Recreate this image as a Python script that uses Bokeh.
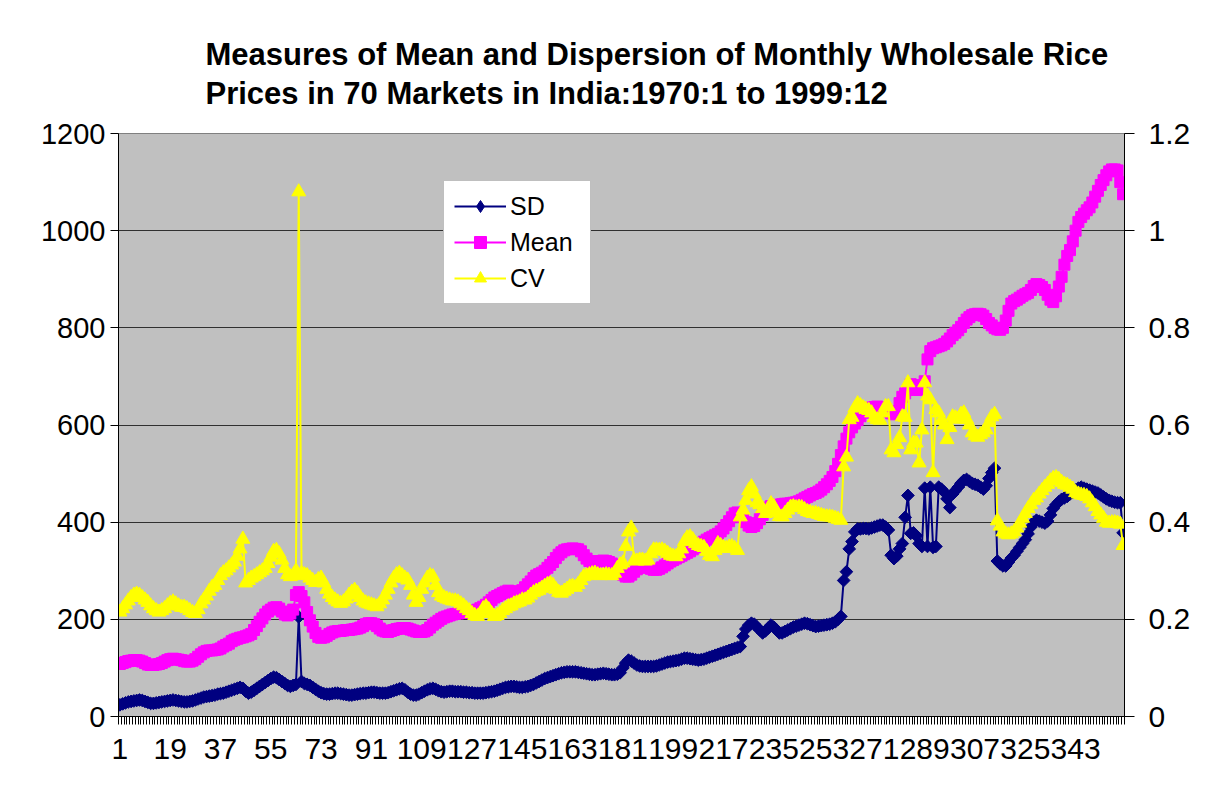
from bokeh.plotting import figure
from bokeh.models import Range1d, LinearAxis, FixedTicker, Legend, LegendItem
from bokeh.embed import file_html
from bokeh.resources import INLINE

# Month index 1..360 (1970:1 to 1999:12)
months = list(range(1, 361))
x_tick_labels = [1, 19, 37, 55, 73, 91, 109, 127, 145, 163, 181, 199, 217, 235, 253, 271, 289, 307, 325, 343]
left_ticks = [0, 200, 400, 600, 800, 1000, 1200]
right_ticks = [0, 0.2, 0.4, 0.6, 0.8, 1.0, 1.2]
right_labels = ["0", "0.2", "0.4", "0.6", "0.8", "1", "1.2"]

mean = [
    108, 110, 112, 114, 115, 116, 116, 115, 113, 110,
    107, 106, 106, 107, 108, 110, 113, 116, 118, 119,
    118, 117, 116, 114, 113, 113, 115, 118, 123, 128,
    132, 135, 136, 136, 137, 138, 140, 144, 147, 150,
    155, 158, 160, 162, 163, 165, 167, 170, 178, 186,
    195, 202, 210, 216, 220, 224, 225, 222, 216, 210,
    208, 212, 220, 250, 256, 248, 235, 215, 198, 185,
    172, 164, 162, 163, 166, 170, 173, 175, 176, 176,
    177, 178, 178, 179, 180, 181, 183, 186, 190, 192,
    192, 190, 186, 181, 177, 175, 174, 176, 178, 180,
    181, 182, 182, 181, 179, 177, 175, 174, 174, 175,
    178, 183, 189, 193, 197, 201, 204, 206, 208, 210,
    211, 212, 213, 213, 214, 215, 216, 218, 220, 223,
    226, 230, 235, 240, 245, 248, 251, 254, 257, 259,
    258, 255, 253, 255, 260, 266, 272, 278, 285, 290,
    293, 296, 300, 306, 312, 318, 326, 333, 338, 342,
    344, 345, 346, 345, 344, 340, 332, 325, 320, 318,
    318, 319, 320, 321, 320, 318, 315, 311, 305, 298,
    292, 288, 288, 292, 298, 303, 307, 309, 308, 306,
    304, 302, 302, 304, 307, 311, 315, 319, 322, 325,
    328, 331, 334, 337, 340, 344, 348, 352, 356, 360,
    364, 367, 370, 373, 376, 381, 387, 394, 402, 410,
    418, 420, 418, 410, 400, 393, 390, 392, 398, 406,
    415, 424, 430, 433, 434, 435, 436, 437, 438, 438,
    439, 440, 441, 443, 446, 449, 452, 455, 458, 460,
    463, 467, 472, 478, 485, 493, 505, 520, 538, 556,
    572, 585, 595, 603, 610, 618, 625, 631, 634, 636,
    637, 638, 637, 636, 633, 628, 624, 622, 628, 645,
    658, 665, 672, 684, 682, 676, 672, 675, 690, 735,
    752, 758, 760, 762, 764, 767, 772, 778, 785, 790,
    795, 802, 810, 817, 822, 826, 828, 829, 828, 825,
    818, 810, 805, 800, 797, 796, 800, 815, 835, 850,
    855, 858, 862, 866, 869, 872, 878, 886, 890, 888,
    884, 878, 868, 858, 853, 865, 885, 905, 930, 948,
    960, 978, 1000, 1018, 1028, 1035, 1042, 1048, 1058, 1070,
    1082, 1094, 1104, 1114, 1122, 1126, 1126, 1124, 1100, 1075,
]

sd = [
    24, 26, 28, 30, 31, 32, 33, 34, 33, 31,
    29, 27, 27, 28, 29, 30, 31, 32, 33, 34,
    33, 32, 31, 30, 30, 31, 32, 34, 36, 38,
    40, 41, 42, 43, 44, 46, 47, 48, 50, 52,
    54, 56, 58, 60, 58, 52, 48, 50, 54, 58,
    62, 66, 70, 74, 78, 81, 80, 76, 72, 68,
    64, 62, 64, 66, 205, 72, 68, 66, 64, 60,
    56, 52, 49, 47, 46, 46, 47, 48, 48, 47,
    46, 45, 44, 44, 45, 46, 47, 48, 48, 49,
    50, 50, 49, 48, 48, 48, 49, 51, 53, 55,
    57, 58, 55, 50, 46, 44, 44, 46, 49, 52,
    55, 57, 58, 56, 53, 51, 50, 51, 52, 52,
    51, 51, 51, 50, 50, 49, 49, 48, 48, 48,
    48, 49, 50, 51, 52, 54, 56, 58, 60, 61,
    62, 62, 61, 60, 60, 61, 62, 64, 66, 69,
    72, 75, 78, 80, 82, 84, 86, 88, 90, 91,
    92, 92, 92, 92, 91, 90, 89, 88, 87, 86,
    86, 87, 88, 89, 88, 87, 86, 86, 87, 90,
    100, 110, 116, 114, 110, 106, 104, 103, 103, 103,
    103, 103, 104, 106, 108, 110, 112, 113, 114, 115,
    116, 118, 120, 120, 119, 118, 117, 116, 117, 118,
    120, 122, 124, 126, 128, 130, 132, 134, 136, 138,
    140, 142, 144, 165, 180, 188, 192, 190, 184, 178,
    172, 176, 182, 188, 184, 178, 172, 172, 175, 178,
    181, 184, 186, 188, 190, 192, 191, 189, 187, 185,
    186, 187, 188, 189, 190, 192, 195, 200, 206, 280,
    298, 345, 360, 380, 386, 386, 387, 387, 386, 388,
    390, 392, 394, 394, 390, 384, 332, 325, 330, 345,
    356, 410, 455, 377, 378, 372, 356, 350, 470, 350,
    472, 348, 350, 472, 468, 462, 448, 430, 458, 465,
    472, 480, 486, 488, 484, 480, 478, 476, 472, 468,
    475, 490, 502, 511, 320, 314, 310, 310, 318, 326,
    332, 340, 348, 356, 364, 376, 390, 400, 404, 402,
    400, 398, 402, 415, 428, 436, 442, 447, 450, 453,
    458, 462, 466, 470, 472, 470, 468, 466, 464, 462,
    460, 456, 452, 448, 445, 443, 441, 440, 440, 378,
]

cv = [
    0.215, 0.222, 0.230, 0.238, 0.245, 0.250, 0.252, 0.250, 0.245, 0.240,
    0.235, 0.228, 0.222, 0.218, 0.215, 0.218, 0.222, 0.228, 0.233, 0.236,
    0.232, 0.228, 0.225, 0.225, 0.222, 0.218, 0.214, 0.212, 0.220, 0.232,
    0.240, 0.248, 0.258, 0.266, 0.270, 0.280, 0.290, 0.296, 0.300, 0.306,
    0.312, 0.318, 0.330, 0.345, 0.365, 0.275, 0.280, 0.285, 0.288, 0.292,
    0.296, 0.300, 0.305, 0.315, 0.328, 0.340, 0.342, 0.335, 0.322, 0.305,
    0.292, 0.288, 0.290, 0.300, 1.080, 0.295, 0.292, 0.290, 0.285, 0.280,
    0.276, 0.282, 0.285, 0.275, 0.262, 0.252, 0.245, 0.240, 0.236, 0.233,
    0.236, 0.242, 0.250, 0.256, 0.260, 0.254, 0.245, 0.238, 0.234, 0.232,
    0.230, 0.228, 0.226, 0.232, 0.240, 0.250, 0.262, 0.275, 0.285, 0.292,
    0.295, 0.290, 0.285, 0.281, 0.270, 0.250, 0.235, 0.245, 0.262, 0.275,
    0.285, 0.290, 0.288, 0.270, 0.255, 0.248, 0.245, 0.242, 0.240, 0.238,
    0.238, 0.236, 0.232, 0.228, 0.222, 0.218, 0.212, 0.208, 0.206, 0.212,
    0.222, 0.226, 0.220, 0.212, 0.206, 0.208, 0.212, 0.218, 0.222, 0.226,
    0.228, 0.232, 0.234, 0.236, 0.240, 0.240, 0.244, 0.250, 0.255, 0.258,
    0.260, 0.264, 0.268, 0.272, 0.274, 0.270, 0.262, 0.256, 0.254, 0.258,
    0.262, 0.267, 0.268, 0.266, 0.272, 0.280, 0.288, 0.290, 0.292, 0.294,
    0.295, 0.292, 0.290, 0.291, 0.292, 0.291, 0.290, 0.295, 0.305, 0.312,
    0.316, 0.350, 0.380, 0.388, 0.322, 0.320, 0.322, 0.322, 0.320, 0.322,
    0.335, 0.343, 0.343, 0.342, 0.343, 0.340, 0.336, 0.332, 0.330, 0.329,
    0.335, 0.345, 0.360, 0.368, 0.370, 0.364, 0.356, 0.352, 0.350, 0.348,
    0.340, 0.332, 0.329, 0.342, 0.356, 0.352, 0.348, 0.346, 0.349, 0.350,
    0.346, 0.342, 0.411, 0.425, 0.445, 0.465, 0.473, 0.458, 0.440, 0.436,
    0.428, 0.418, 0.425, 0.438, 0.432, 0.420, 0.412, 0.411, 0.418, 0.425,
    0.431, 0.432, 0.430, 0.431, 0.430, 0.426, 0.422, 0.420, 0.418, 0.418,
    0.416, 0.414, 0.412, 0.411, 0.411, 0.410, 0.408, 0.406, 0.404, 0.514,
    0.534, 0.611, 0.616, 0.635, 0.644, 0.640, 0.636, 0.632, 0.630, 0.625,
    0.615, 0.611, 0.610, 0.625, 0.638, 0.638, 0.549, 0.543, 0.560, 0.574,
    0.617, 0.616, 0.687, 0.549, 0.563, 0.563, 0.522, 0.590, 0.687, 0.660,
    0.652, 0.502, 0.632, 0.625, 0.610, 0.600, 0.570, 0.595, 0.617, 0.615,
    0.612, 0.622, 0.625, 0.612, 0.600, 0.584, 0.578, 0.575, 0.580, 0.584,
    0.590, 0.605, 0.617, 0.622, 0.403, 0.392, 0.380, 0.376, 0.374, 0.376,
    0.380, 0.388, 0.398, 0.408, 0.418, 0.428, 0.436, 0.445, 0.450, 0.458,
    0.465, 0.472, 0.478, 0.485, 0.490, 0.492, 0.488, 0.482, 0.478, 0.476,
    0.472, 0.468, 0.461, 0.458, 0.456, 0.455, 0.453, 0.448, 0.440, 0.432,
    0.422, 0.415, 0.408, 0.400, 0.398, 0.399, 0.399, 0.398, 0.396, 0.352,
]

FONT = "Liberation Sans"
NAVY = "#000080"
MAGENTA = "#FF00FF"
YELLOW = "#FFFF00"

p = figure(width=1203, height=785, output_backend="svg", toolbar_location=None,
           x_range=Range1d(0.5, 360.5), y_range=Range1d(0, 1200),
           min_border_left=118, min_border_right=79, min_border_top=133, min_border_bottom=69,
           background_fill_color="#C0C0C0", border_fill_color="white",
           outline_line_color="#808080", outline_line_width=1)

p.title.text = ("Measures of Mean and Dispersion of Monthly Wholesale Rice\n"
                "Prices in 70 Markets in India:1970:1 to 1999:12")
p.title.text_font = FONT
p.title.text_font_size = "31px"
p.title.text_font_style = "bold"
p.title.text_color = "black"
p.title.text_line_height = 1.12
p.title.align = "left"
p.title.offset = 87
p.title.standoff = 45

p.extra_y_ranges = {"cv": Range1d(0, 1.2)}

# left axis
ya = p.yaxis[0]
ya.ticker = FixedTicker(ticks=left_ticks)
ya.major_tick_out = 8
ya.major_tick_in = 0
ya.minor_tick_line_color = None
ya.axis_line_color = "black"
ya.major_tick_line_color = "black"
ya.major_label_text_font = FONT
ya.major_label_text_font_size = "29px"
ya.major_label_text_color = "black"
ya.major_label_standoff = 5

# right axis
ra = LinearAxis(y_range_name="cv", ticker=FixedTicker(ticks=right_ticks),
                major_label_overrides={t: l for t, l in zip(right_ticks, right_labels)})
ra.major_tick_out = 10
ra.major_tick_in = 0
ra.minor_tick_line_color = None
ra.axis_line_color = "black"
ra.major_tick_line_color = "black"
ra.major_label_text_font = FONT
ra.major_label_text_font_size = "30px"
ra.major_label_text_color = "black"
ra.major_label_standoff = 14
p.add_layout(ra, "right")

# x axis
xa = p.xaxis[0]
xa.ticker = FixedTicker(ticks=x_tick_labels, minor_ticks=[k + 0.5 for k in range(0, 361)])
xa.major_tick_line_color = None
xa.major_tick_out = 0
xa.major_tick_in = 0
xa.minor_tick_out = 8
xa.minor_tick_in = 0
xa.minor_tick_line_color = "black"
xa.axis_line_color = "black"
xa.major_label_text_font = FONT
xa.major_label_text_font_size = "30px"
xa.major_label_text_color = "black"
xa.major_label_standoff = 14

p.xgrid.visible = False
p.ygrid.ticker = FixedTicker(ticks=left_ticks)
p.ygrid.grid_line_color = "#303030"
p.ygrid.grid_line_width = 1

sd_l = p.line(months, sd, line_color=NAVY, line_width=2)
sd_m = p.scatter(months, sd, marker="square", size=9, angle=0.785398,
                 fill_color=NAVY, line_color=NAVY)
mn_l = p.line(months, mean, line_color=MAGENTA, line_width=2)
mn_m = p.scatter(months, mean, marker="square", size=11, fill_color=MAGENTA, line_color=MAGENTA)
cv_l = p.line(months, cv, line_color=YELLOW, line_width=2, y_range_name="cv")
cv_m = p.scatter(months, cv, marker="triangle", size=14, fill_color=YELLOW, line_color=YELLOW,
                 y_range_name="cv")

# legend-only diamond glyph (positioned outside the visible range)
sd_key = p.scatter([-50], [-50], marker="diamond", size=17, fill_color=NAVY, line_color=NAVY)

legend = Legend(items=[LegendItem(label="SD", renderers=[sd_l, sd_key]),
                       LegendItem(label="Mean", renderers=[mn_l, mn_m]),
                       LegendItem(label="CV", renderers=[cv_l, cv_m])],
                location=(325, 412))
legend.border_line_color = "#808080"
legend.border_line_width = 1
legend.background_fill_color = "white"
legend.background_fill_alpha = 1
legend.label_text_font = FONT
legend.label_text_font_size = "25px"
legend.label_text_color = "black"
legend.glyph_width = 52
legend.glyph_height = 30
legend.label_height = 30
legend.label_width = 70
legend.label_standoff = 4
legend.spacing = 6
legend.padding = 10
legend.margin = 0
p.add_layout(legend)

open("out.html", "w").write(file_html(p, INLINE))
